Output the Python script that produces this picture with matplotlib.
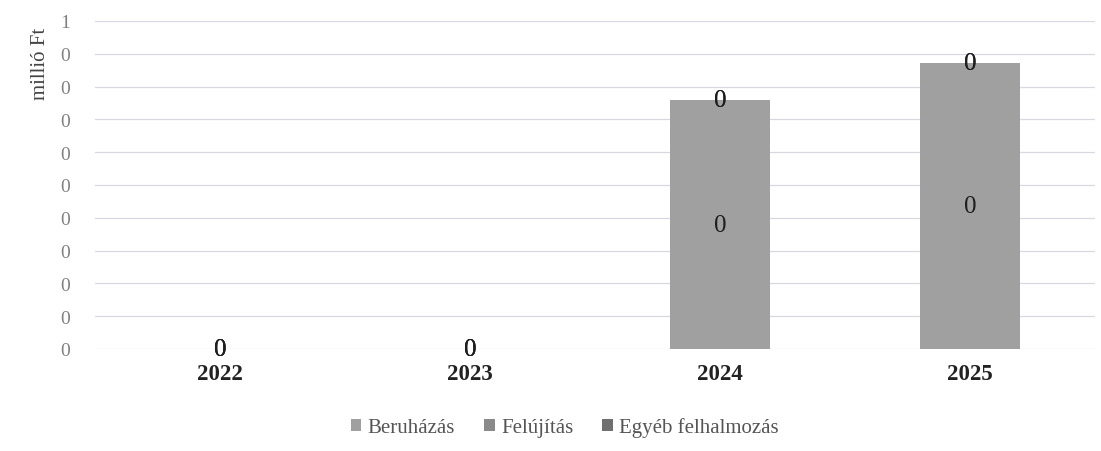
import numpy as np
import matplotlib
matplotlib.use("Agg")
import matplotlib.pyplot as plt
from matplotlib.patches import Patch

# Adatok (millió Ft)
evek = ["2022", "2023", "2024", "2025"]
beruhazas = [0.0, 0.0, 0.758, 0.871]
felujitas = [0.0, 0.0, 0.0, 0.0]
egyeb = [0.0, 0.0, 0.0, 0.0]
sorozatok = ["Beruházás", "Felújítás", "Egyéb felhalmozás"]

# a diagramon minden adatcímke "0"-ként jelenik meg
adatcimkek = ["0", "0", "0", "0"]

y_tickek = [0.0, 0.1, 0.2, 0.3, 0.4, 0.5, 0.6, 0.7, 0.8, 0.9, 1.0]
y_cimkek = ["0", "0", "0", "0", "0", "0", "0", "0", "0", "0", "1"]

plt.rcParams["font.family"] = ["Liberation Serif", "DejaVu Serif"]

szinek = ["#a0a0a0", "#8a8a8a", "#6f6f6f"]

fig = plt.figure(figsize=(11.01, 4.52), dpi=100)
ax = fig.add_axes([0.0863, 0.2257, 0.9083, 0.7257])

x = np.arange(len(evek))
alap = np.zeros(len(evek))
for nev, ertekek, szin in zip(sorozatok, [beruhazas, felujitas, egyeb], szinek):
    rudak = ax.bar(x, ertekek, width=0.4, bottom=alap, color=szin, zorder=2)
    ax.bar_label(rudak, labels=adatcimkek, label_type="center",
                 fontsize=18, color="#1e1e1e", zorder=3)
    alap += np.array(ertekek)

ax.set_xlim(-0.5, len(evek) - 0.5)
ax.set_ylim(0, 1.0)
ax.set_yticks(y_tickek)
ax.set_yticklabels(y_cimkek, fontsize=14, color="#808080")
ax.set_xticks(x)
ax.set_xticklabels(evek, fontsize=16.5, fontweight="bold", color="#222222")
ax.tick_params(axis="y", length=0, pad=18)
ax.tick_params(axis="x", length=0, pad=10)
for s in ax.spines.values():
    s.set_visible(False)
ax.yaxis.grid(True, color="#d8d8e2", lw=0.9, zorder=0)
ax.set_axisbelow(True)

fig.text(0.037, 0.858, "millió Ft", rotation=90, ha="center", va="center",
         fontsize=15, color="#444444")

kezelok = [Patch(facecolor=c, edgecolor="none") for c in szinek]
fig.legend(kezelok, sorozatok, loc="center", bbox_to_anchor=(0.513, 0.053),
           ncol=3, frameon=False, fontsize=15, handlelength=0.5, handleheight=0.5,
           handletextpad=0.3, columnspacing=1.4, labelcolor="#555555")

fig.savefig("out.png", dpi=100)
